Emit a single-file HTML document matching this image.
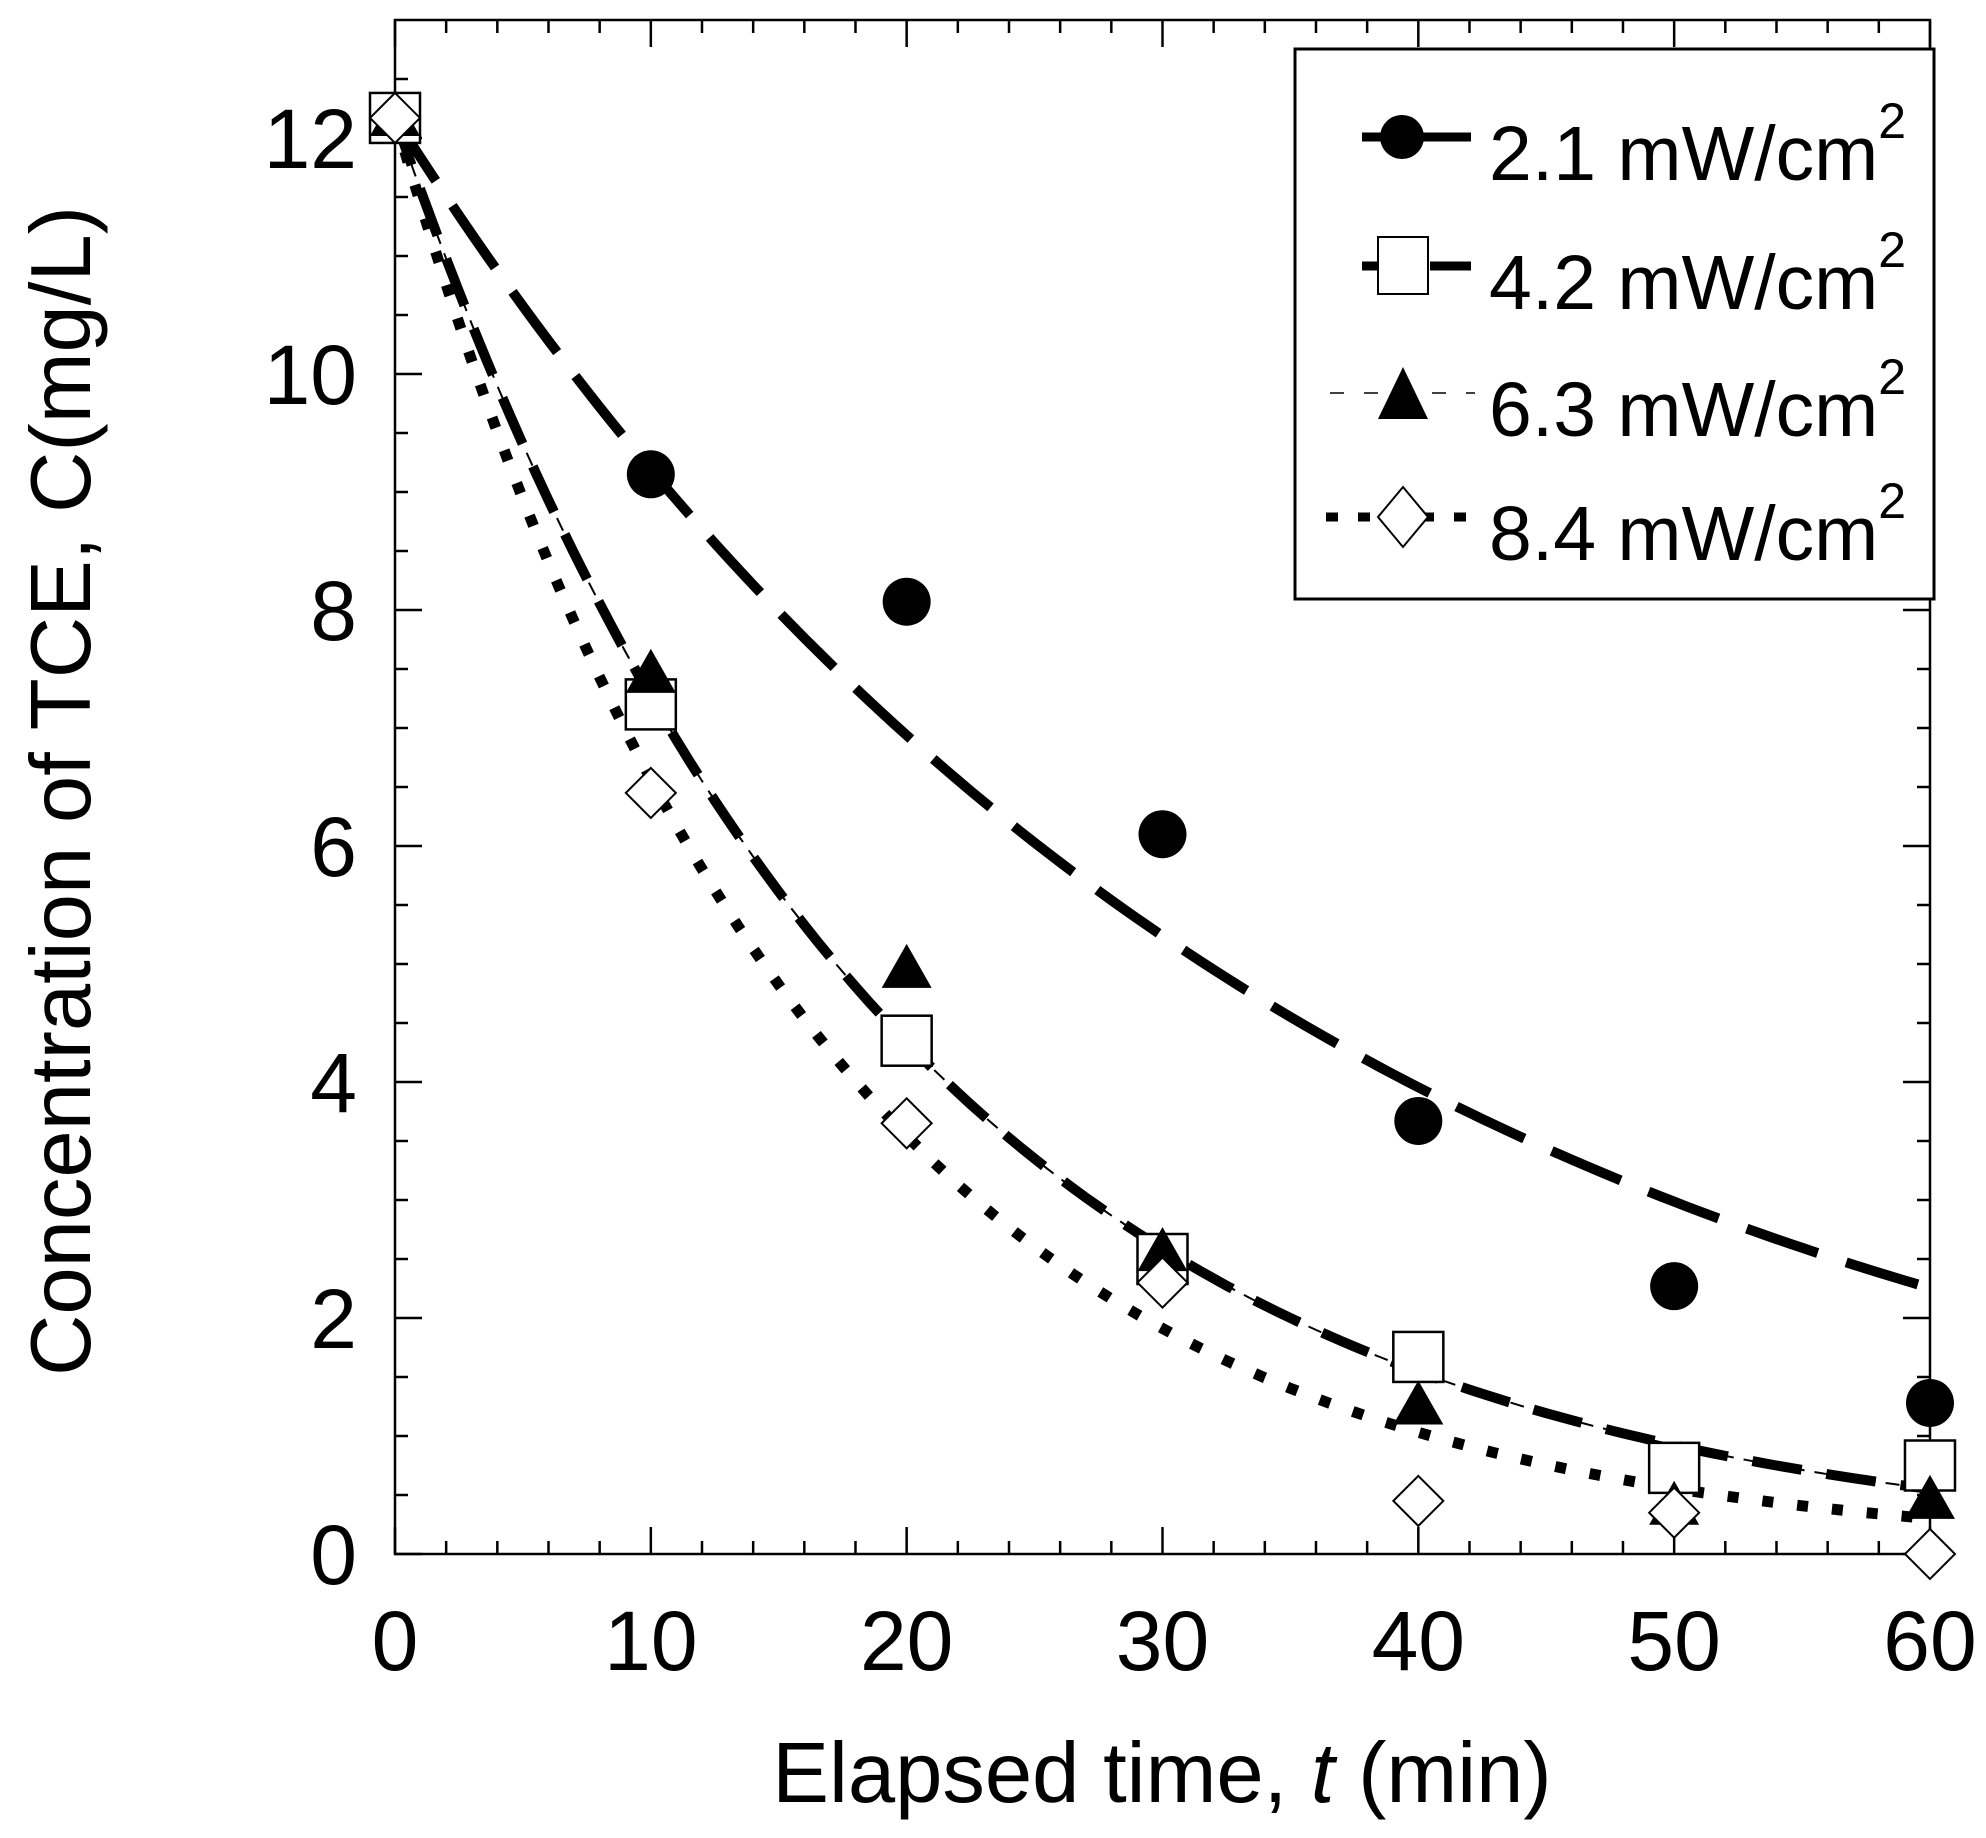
<!DOCTYPE html>
<html><head><meta charset="utf-8"><style>html,body{margin:0;padding:0;background:#fff}svg{display:block}</style></head><body>
<svg width="1986" height="1838" viewBox="0 0 1986 1838" xmlns="http://www.w3.org/2000/svg" font-family="Liberation Sans, Arial, sans-serif">
<rect width="1986" height="1838" fill="#fff"/>
<g id="curves" fill="none" stroke="#000">
<path id="c1" stroke-width="10" stroke-dasharray="75 30" d=""/>
<path id="c2" stroke-width="10" stroke-dasharray="50 25" d=""/>
<path id="c3" stroke-width="2" stroke-dasharray="14 10" d=""/>
<path id="c4" stroke-width="11" stroke-dasharray="11 24" d=""/>
</g>
<g id="axes" stroke="#000" stroke-width="2.5" fill="none"><rect x="395" y="20" width="1535" height="1534"/></g>
<g id="ticks" stroke="#000" stroke-width="2.5"></g>
<g id="marks"></g>
<g font-size="84" fill="#000" text-anchor="end" id="ylab"></g>
<g font-size="84" fill="#000" text-anchor="middle" id="xlab"></g>
<text x="1162" y="1802" font-size="85" text-anchor="middle">Elapsed time, <tspan font-style="italic">t</tspan> (min)</text>
<text transform="translate(90,791) rotate(-90)" font-size="85" text-anchor="middle">Concentration of TCE, C(mg/L)</text>
<rect x="1295" y="49" width="639" height="550" fill="#fff" stroke="#000" stroke-width="3"/>
<g stroke="#000" fill="none">
<line x1="1362" y1="137" x2="1471" y2="137" stroke-width="9"/>
<line x1="1362" y1="266" x2="1471" y2="266" stroke-width="9" stroke-dasharray="42 26"/>
<line x1="1330" y1="393" x2="1475" y2="393" stroke-width="1.5" stroke-dasharray="14 20"/>
<line x1="1326" y1="517" x2="1480" y2="517" stroke-width="9" stroke-dasharray="12 20"/>
</g>
<circle cx="1402" cy="137" r="22"/>
<rect x="1378" y="237" width="50" height="57" fill="#fff" stroke="#000" stroke-width="2"/>
<polygon points="1403,367 1378,419 1428,419" fill="#000"/>
<polygon points="1403,487 1428,517 1403,547 1378,517" fill="#fff" stroke="#000" stroke-width="2"/>
<g font-size="77" fill="#000">
<text x="1489" y="180">2.1 mW/cm<tspan font-size="50" dy="-42">2</tspan></text>
<text x="1489" y="309">4.2 mW/cm<tspan font-size="50" dy="-42">2</tspan></text>
<text x="1489" y="436">6.3 mW/cm<tspan font-size="50" dy="-42">2</tspan></text>
<text x="1489" y="560">8.4 mW/cm<tspan font-size="50" dy="-42">2</tspan></text>
</g>
<script>
const X=t=>395+t*25.583, Y=c=>1554-c*118, NS="http://www.w3.org/2000/svg";
function curve(id,k){let d="";for(let t=0;t<=60;t+=0.5){d+=(t?"L":"M")+X(t).toFixed(1)+","+Y(12.17*Math.exp(-k*t)).toFixed(1)}document.getElementById(id).setAttribute("d",d)}
curve("c1",0.0281);curve("c2",0.0516);curve("c3",0.0516);curve("c4",0.0617);
function el(p,tag,a){const e=document.createElementNS(NS,tag);for(const k in a)e.setAttribute(k,a[k]);document.getElementById(p).appendChild(e);return e}
for(let t=0;t<=60;t+=2){const L=t%10==0?27:13;el("ticks","line",{x1:X(t),y1:1554,x2:X(t),y2:1554-L});el("ticks","line",{x1:X(t),y1:20,x2:X(t),y2:20+L})}
for(let c=0;c<=12.5;c+=0.5){const L=(c%2==0)?27:13;el("ticks","line",{x1:395,y1:Y(c),x2:395+L,y2:Y(c)});el("ticks","line",{x1:1930,y1:Y(c),x2:1930-L,y2:Y(c)})}
for(let c=0;c<=12;c+=2){el("ylab","text",{x:357,y:Y(c)+30}).textContent=c}
for(let t=0;t<=60;t+=10){el("xlab","text",{x:X(t),y:1670}).textContent=t}
const ts=[0,10,20,30,40,50,60];
const d1=[12.17,9.15,8.07,6.1,3.67,2.27,1.28],d2=[12.17,7.2,4.35,2.5,1.67,0.73,0.75],d3=[12.17,7.45,4.95,2.55,1.25,0.4,0.45],d4=[12.17,6.45,3.65,2.3,0.45,0.35,0.0];
ts.forEach((t,i)=>{const x=X(t);
el("marks","circle",{cx:x,cy:Y(d1[i]),r:24,fill:"#000"});
el("marks","rect",{x:x-25,y:Y(d2[i])-25,width:50,height:50,fill:"#fff",stroke:"#000","stroke-width":2.5});
el("marks","polygon",{points:`${x},${Y(d3[i])-26} ${x-25},${Y(d3[i])+18} ${x+25},${Y(d3[i])+18}`,fill:"#000"});
el("marks","polygon",{points:`${x},${Y(d4[i])-25} ${x+25},${Y(d4[i])} ${x},${Y(d4[i])+25} ${x-25},${Y(d4[i])}`,fill:"#fff",stroke:"#000","stroke-width":2});
});
</script>
</svg>
</body></html>
